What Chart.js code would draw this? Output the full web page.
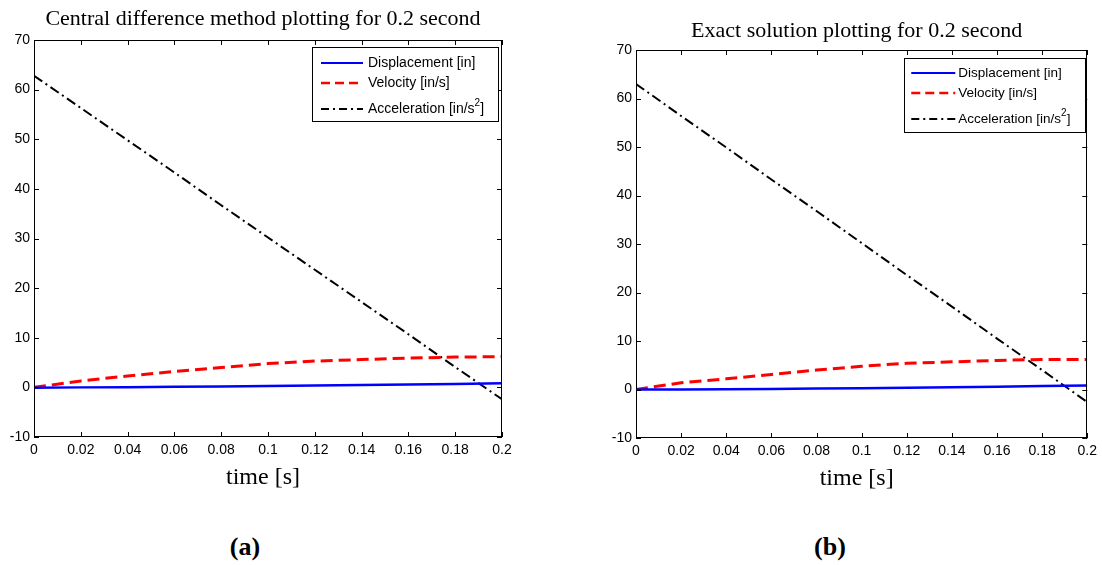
<!DOCTYPE html>
<html>
<head>
<meta charset="utf-8">
<title>Central difference vs exact solution</title>
<script src="https://cdn.jsdelivr.net/npm/chart.js@4.4.1/dist/chart.umd.min.js"></script>
<style>
  html, body { margin: 0; padding: 0; background: #fff; }
  body { position: relative; width: 1102px; height: 565px; overflow: hidden; }
  canvas { position: absolute; top: 0; }
  #cdChart { left: 0; }
  #exChart { left: 560px; }
  .panel-tag {
    position: absolute; top: 532px; width: 60px; text-align: center;
    font: bold 26px "Liberation Serif", "Times New Roman", serif; color: #000;
  }
</style>
</head>
<body>
<canvas id="cdChart" width="540" height="500"></canvas>
<canvas id="exChart" width="542" height="500"></canvas>
<div class="panel-tag" style="left:215px">(a)</div>
<div class="panel-tag" style="left:800px">(b)</div>

<script>
// time samples [s]
const timeSec = [0, 0.02, 0.04, 0.06, 0.08, 0.1, 0.12, 0.14, 0.16, 0.18, 0.2];

// central difference results
const cdDisp = [-0.1, 0.0, 0.05, 0.12, 0.2, 0.28, 0.37, 0.47, 0.58, 0.7, 0.85];
const cdVel  = [0, 1.3, 2.3, 3.2, 4.0, 4.8, 5.3, 5.6, 5.9, 6.1, 6.2];
const cdAcc  = [62.8, 56.3, 49.8, 43.3, 36.7, 30.2, 23.7, 17.2, 10.7, 4.1, -2.4];

// exact solution
const exDisp = [0, 0.02, 0.06, 0.12, 0.2, 0.28, 0.38, 0.48, 0.58, 0.7, 0.82];
const exVel  = [0, 1.4, 2.2, 3.1, 4.0, 4.8, 5.4, 5.7, 6.0, 6.2, 6.2];
const exAcc  = [63.0, 56.4, 49.9, 43.3, 36.8, 30.2, 23.6, 17.1, 10.5, 4.0, -2.6];

const seriesNames = ['Displacement [in]', 'Velocity [in/s]', 'Acceleration [in/s²]'];
const xTicks = [0, 0.02, 0.04, 0.06, 0.08, 0.1, 0.12, 0.14, 0.16, 0.18, 0.2];
const yTicks = [-10, 0, 10, 20, 30, 40, 50, 60, 70];

const tickFont = { family: '"Liberation Sans", Arial, sans-serif', size: 14 };
const serif = '"Liberation Serif", "Times New Roman", serif';

const pts = arr => arr.map((v, i) => ({ x: timeSec[i], y: v }));

function makeDatasets(disp, vel, acc) {
    return [
        { label: seriesNames[0], data: pts(disp), borderColor: '#0000ff', borderWidth: 2.5, borderDash: [] },
        { label: seriesNames[1], data: pts(vel), borderColor: '#ff0000', borderWidth: 3, borderDash: [12, 6] },
        { label: seriesNames[2], data: pts(acc), borderColor: '#000000', borderWidth: 2, borderDash: [10, 4, 2, 4] }
    ];
}

// box, inward ticks, titles and legend drawn around the chart area
const matlabFrame = {
    id: 'matlabFrame',
    afterDraw(chart, args, o) {
        const { ctx, chartArea: a, scales: { x, y } } = chart;
        ctx.save();
        ctx.strokeStyle = '#000';
        ctx.lineWidth = 1;
        ctx.setLineDash([]);
        ctx.strokeRect(Math.round(a.left) + 0.5, Math.round(a.top) + 0.5,
            Math.round(a.right - a.left) - 1, Math.round(a.bottom - a.top) - 1);

        const tl = 5;
        ctx.beginPath();
        x.ticks.forEach(t => {
            const px = Math.round(x.getPixelForValue(t.value)) + 0.5;
            ctx.moveTo(px, a.bottom); ctx.lineTo(px, a.bottom - tl);
            ctx.moveTo(px, a.top); ctx.lineTo(px, a.top + tl);
        });
        y.ticks.forEach(t => {
            const py = Math.round(y.getPixelForValue(t.value)) + 0.5;
            ctx.moveTo(a.left, py); ctx.lineTo(a.left + tl, py);
            ctx.moveTo(a.right, py); ctx.lineTo(a.right - tl, py);
        });
        ctx.stroke();

        // titles
        const cx = (a.left + a.right) / 2 - 5;
        ctx.fillStyle = '#000';
        ctx.textAlign = 'center';
        ctx.textBaseline = 'alphabetic';
        ctx.font = '22px ' + serif;
        ctx.fillText(o.title, cx, a.top - o.titleGap);
        ctx.font = '24px ' + serif;
        ctx.fillText('time [s]', cx, a.bottom + 47);

        // legend box
        const L = o.legend;
        const bx = a.right - L.inset - L.width;
        const by = a.top + L.top;
        ctx.fillStyle = '#fff';
        ctx.fillRect(bx, by, L.width, L.height);
        ctx.strokeStyle = '#000';
        ctx.lineWidth = 1;
        ctx.strokeRect(Math.round(bx) + 0.5, Math.round(by) + 0.5, L.width, L.height);

        chart.data.datasets.forEach((ds, i) => {
            const ry = by + L.rows[i];
            ctx.strokeStyle = ds.borderColor;
            ctx.lineWidth = i === 1 ? 2.5 : 2;
            ctx.setLineDash(i === 0 ? [] : (i === 1 ? [9, 5] : [8, 4, 2, 4]));
            ctx.beginPath();
            ctx.moveTo(bx + L.lineFrom, ry);
            ctx.lineTo(bx + L.lineTo, ry);
            ctx.stroke();
            ctx.setLineDash([]);

            ctx.fillStyle = '#000';
            ctx.textAlign = 'left';
            ctx.textBaseline = 'middle';
            ctx.font = L.fontSize + 'px "Liberation Sans", Arial, sans-serif';
            let tx = bx + L.textAt;
            const parts = ds.label.split('²');
            ctx.fillText(parts[0], tx, ry);
            if (parts.length > 1) {
                tx += ctx.measureText(parts[0]).width;
                ctx.font = Math.round(L.fontSize * 0.72) + 'px "Liberation Sans", Arial, sans-serif';
                ctx.fillText('2', tx, ry - 6);
                tx += ctx.measureText('2').width;
                ctx.font = L.fontSize + 'px "Liberation Sans", Arial, sans-serif';
                ctx.fillText(parts[1], tx, ry);
            }
        });
        ctx.restore();
    }
};

function buildChart(id, datasets, pad, xHeight, frameOpts) {
    return new Chart(document.getElementById(id).getContext('2d'), {
        type: 'line',
        data: { datasets },
        options: {
            responsive: false,
            animation: false,
            parsing: false,
            elements: { point: { radius: 0 }, line: { tension: 0 } },
            layout: { padding: pad },
            plugins: { legend: { display: false }, tooltip: { enabled: false }, matlabFrame: frameOpts },
            scales: {
                x: {
                    type: 'linear', min: 0, max: 0.2,
                    grid: { display: false, drawTicks: false },
                    border: { display: false },
                    afterBuildTicks: s => { s.ticks = xTicks.map(v => ({ value: v })); },
                    afterFit: s => { s.height = xHeight; },
                    ticks: { font: tickFont, color: '#000', padding: 5, maxRotation: 0, autoSkip: false,
                        callback: v => String(parseFloat(v.toFixed(2))) }
                },
                y: {
                    type: 'linear', min: -10, max: 70,
                    grid: { display: false, drawTicks: false },
                    border: { display: false },
                    afterBuildTicks: s => { s.ticks = yTicks.map(v => ({ value: v })); },
                    afterFit: s => { s.width = 34; },
                    ticks: { font: tickFont, color: '#000', padding: 4, autoSkip: false }
                }
            }
        },
        plugins: [matlabFrame]
    });
}

buildChart('cdChart', makeDatasets(cdDisp, cdVel, cdAcc),
    { left: 0, top: 40, right: 38, bottom: 0 }, 63,
    { title: 'Central difference method plotting for 0.2 second', titleGap: 15,
      legend: { inset: 4, top: 7, width: 186, height: 74, rows: [16, 36, 62],
                lineFrom: 9, lineTo: 51, textAt: 56, fontSize: 14 } });

buildChart('exChart', makeDatasets(exDisp, exVel, exAcc),
    { left: 42, top: 50, right: 13, bottom: 0 }, 62,
    { title: 'Exact solution plotting for 0.2 second', titleGap: 13,
      legend: { inset: 2, top: 8, width: 181, height: 74, rows: [15, 35, 61],
                lineFrom: 7, lineTo: 51, textAt: 54, fontSize: 13.5 } });
</script>
</body>
</html>
